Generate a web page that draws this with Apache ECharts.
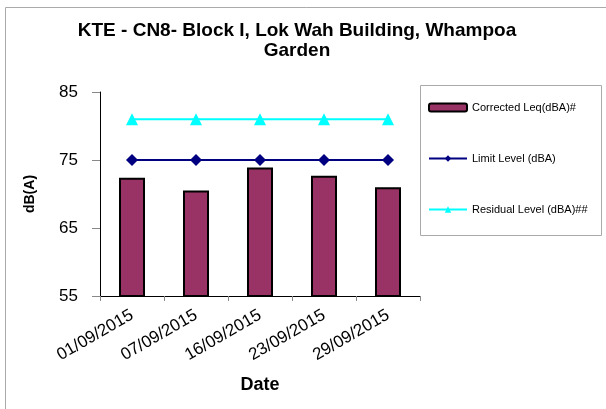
<!DOCTYPE html>
<html>
<head>
<meta charset="utf-8">
<script src="https://cdn.jsdelivr.net/npm/echarts@6/dist/echarts.min.js"></script>
<style>
  html, body { margin: 0; padding: 0; background: #fff; }
  #chart { width: 606px; height: 409px; }
</style>
</head>
<body>
<div id="chart"></div>
<script>
// 数据
var dates = ['01/09/2015', '07/09/2015', '16/09/2015', '23/09/2015', '29/09/2015']
var correctedLeq = [72.4, 70.5, 73.9, 72.7, 71.0]
var limitLevel = [75, 75, 75, 75, 75]
var residualLevel = [81, 81, 81, 81, 81]

var font = 'Liberation Sans, Arial, sans-serif'

var myChart = echarts.init(document.getElementById('chart'))
var option = {
  backgroundColor: '#fff',
  animation: false,
  title: {
    text: 'KTE - CN8- Block I, Lok Wah Building, Whampoa\nGarden',
    left: 292,
    textAlign: 'center',
    top: 16,
    textStyle: { fontFamily: font, fontSize: 19, fontWeight: 'bold', color: '#000', lineHeight: 20 }
  },
  grid: { left: 100, right: 186, top: 92, bottom: 113 },
  graphic: [
    // 外框
    {
      type: 'rect',
      left: 3, top: 5,
      shape: { width: 620, height: 420 },
      style: { fill: 'none', stroke: '#aaa', lineWidth: 1 }
    },
    // 图例框
    {
      type: 'rect',
      left: 418, top: 83,
      shape: { width: 181, height: 150 },
      style: { fill: 'none', stroke: '#aaa', lineWidth: 1 }
    }
  ],
  legend: {
    orient: 'vertical',
    left: 423, top: 97,
    itemGap: 40,
    itemWidth: 38, itemHeight: 8,
    textStyle: { fontFamily: font, fontSize: 11, color: '#000' },
    data: ['Corrected Leq(dBA)#', 'Limit Level (dBA)', 'Residual Level (dBA)##']
  },
  xAxis: {
    type: 'category',
    data: dates,
    name: 'Date',
    nameLocation: 'middle',
    nameGap: 80,
    nameTextStyle: { fontFamily: font, fontSize: 18, fontWeight: 'bold', color: '#000' },
    axisLine: { lineStyle: { color: '#000', width: 1 } },
    axisTick: { show: true, length: 5, lineStyle: { color: '#888' } },
    axisLabel: { rotate: 30, margin: 18, fontFamily: font, fontSize: 17, color: '#000' },
    splitLine: { show: false }
  },
  yAxis: {
    type: 'value',
    min: 55, max: 85, interval: 10,
    name: 'dB(A)',
    nameLocation: 'middle',
    nameGap: 63,
    nameTextStyle: { fontFamily: font, fontSize: 14, fontWeight: 'bold', color: '#000' },
    axisLine: { show: true, lineStyle: { color: '#000', width: 1 } },
    axisTick: { show: true, length: 8, lineStyle: { color: '#888' } },
    axisLabel: { margin: 22, fontFamily: font, fontSize: 17, color: '#000' },
    splitLine: { show: false }
  },
  series: [
    {
      name: 'Corrected Leq(dBA)#',
      type: 'bar',
      data: correctedLeq,
      barWidth: 26,
      itemStyle: { color: '#993366', borderColor: '#000', borderWidth: 2 }
    },
    {
      name: 'Limit Level (dBA)',
      type: 'line',
      data: limitLevel,
      symbol: 'diamond',
      symbolSize: 12,
      lineStyle: { color: '#000080', width: 2 },
      itemStyle: { color: '#000080' }
    },
    {
      name: 'Residual Level (dBA)##',
      type: 'line',
      data: residualLevel,
      symbol: 'triangle',
      symbolSize: 12,
      lineStyle: { color: '#00FFFF', width: 2 },
      itemStyle: { color: '#00FFFF' }
    }
  ]
}
myChart.setOption(option)
</script>
</body>
</html>
